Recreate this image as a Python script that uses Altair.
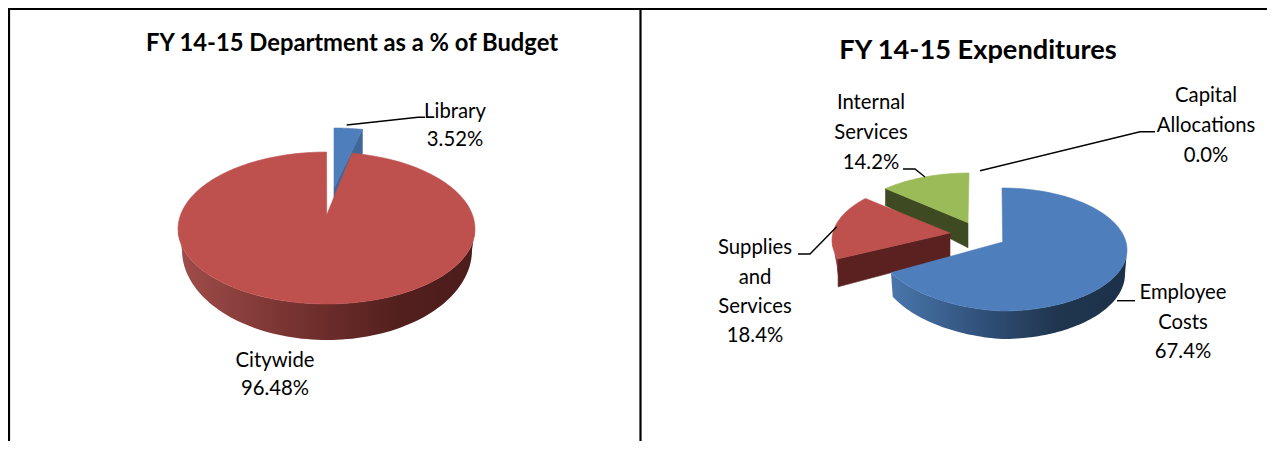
import math
import altair as alt
import pandas as pd

# ---- values
dept_names = ["Library", "Citywide"]
dept_pct = [3.52, 96.48]
exp_names = ["Employee Costs", "Supplies and Services", "Internal Services", "Capital Allocations"]
exp_pct = [67.4, 18.4, 14.2, 0.0]
title_left = "FY 14-15 Department as a % of Budget"
title_right = "FY 14-15 Expenditures"

# ---- colours
RED, BLUE, GREEN = "#BE504E", "#4E7EBB", "#9BBB59"
DARK_RED, DARK_BLUE, DARK_GREEN = "#5A2120", "#3F6797", "#3E4A22"


def grad(*stops):
    return alt.LinearGradient(
        gradient="linear", x1=0, x2=1, y1=0, y2=0,
        stops=[alt.GradientStop(color=c, offset=o) for o, c in stops],
    )


X = alt.Scale(domain=[8, 1267], nice=False, zero=False)
Y = alt.Scale(domain=[8, 441], nice=False, zero=False, reverse=True)


def enc():
    return dict(
        x=alt.X("x:Q", scale=X, axis=None),
        y=alt.Y("y:Q", scale=Y, axis=None),
        order="o:Q",
    )


def rim(e, t):
    r = math.radians(t)
    c, s = math.cos(r), math.sin(r)
    ry = e["top"] if c > 0 else e["bot"]
    lift = e.get("lift", 0) * s if s < 0 else 0
    return (e["cx"] + e["rx"] * s, e["cy"] - ry * c + lift)


def arc(e, t0, t1, n=90):
    return [rim(e, t0 + (t1 - t0) * i / n) for i in range(n + 1)]


def poly(points, fill, width=0.6):
    pts = list(points) + [points[0]]
    df = pd.DataFrame({"x": [p[0] for p in pts], "y": [p[1] for p in pts], "o": range(len(pts))})
    stroke = fill if isinstance(fill, str) else "#00000000"
    return alt.Chart(df).mark_line(fill=fill, stroke=stroke, strokeWidth=width if isinstance(fill, str) else 0).encode(**enc())


def sector(e, apex, t0, t1):
    return poly([apex] + arc(e, t0, t1), e["fill"])


def band(e, bottom, t0, t1, fill):
    return poly(arc(e, t0, t1) + arc(bottom, t1, t0), fill)


def cut(apex, edge, d_apex, d_edge, fill):
    return poly([apex, edge, (edge[0], edge[1] + d_edge), (apex[0], apex[1] + d_apex)], fill)


def lead(points, width=1.4):
    df = pd.DataFrame({"x": [p[0] for p in points], "y": [p[1] for p in points], "o": range(len(points))})
    return alt.Chart(df).mark_line(color="black", strokeWidth=width).encode(**enc())


def text(lines, x, ys, size=20.3, bold=False):
    df = pd.DataFrame({"x": [x] * len(lines), "y": [v + 1.3 for v in ys], "t": lines})
    return alt.Chart(df).mark_text(
        font="Lato", fontSize=size, fontWeight="bold" if bold else "normal",
        color="black", align="center", baseline="middle",
    ).encode(x=alt.X("x:Q", scale=X, axis=None), y=alt.Y("y:Q", scale=Y, axis=None), text="t:N")


layers = []

# ---- frame
layers += [
    lead([(8, 9), (1267, 9)], 2.2),
    lead([(9, 9), (9, 441)], 2.2),
    lead([(640.5, 9), (640.5, 441)], 2.2),
]

# ---- left pie
lib = dict(cx=334, cy=204, rx=148.5, top=76, bot=76, fill=BLUE)
lib_span = 360 * dept_pct[0] / 100 * 0.87
lib_apex = (334, 188)
layers += [
    cut(lib_apex, rim(lib, lib_span), 12, 24, DARK_BLUE),
    sector(lib, lib_apex, 0, lib_span),
]
city = dict(cx=326.5, cy=229, rx=148.5, top=77, bot=75, fill=RED)
city_bottom = dict(cx=327, cy=250, rx=145, top=90, bot=90)
city_gap = 360 * dept_pct[0] / 100 * 0.78
layers += [
    band(city, city_bottom, 90, 270, grad((0, "#A04D4A"), (0.45, "#702F2D"), (0.75, "#521F1D"), (1, "#4C1D1B"))),
    sector(city, (326.7, 215), city_gap, 360),
]

# ---- right pie
green = dict(cx=969, cy=234, rx=125, top=61, bot=61, fill=GREEN)
green_span = 360 * exp_pct[2] / 100 * 0.82
green_apex = (968, 222.7)
layers += [
    cut(green_apex, rim(green, 360 - green_span), 25, 17, DARK_GREEN),
    sector(green, green_apex, 360 - green_span, 360),
]
red = dict(cx=957, cy=240, rx=125, top=61, bot=61, fill=RED)
red_span = 360 * exp_pct[1] / 100 * 0.92
red_apex = (950, 233)
red_bottom = dict(cx=959, cy=267, rx=122, top=61, bot=61)
layers += [
    band(red, red_bottom, 252, 270, grad((0, "#A9504D"), (1, "#7A2F2D"))),
    cut(red_apex, rim(red, 252), 24, 28, DARK_RED),
    sector(red, red_apex, 252, 252 + red_span),
]
blue = dict(cx=1002, cy=250, rx=125, top=62, bot=61, lift=6, fill=BLUE)
blue_bottom = dict(cx=1002, cy=274, rx=123, top=65, bot=65, lift=8)
blue_span = 360 * exp_pct[0] / 100
layers += [
    band(blue, blue_bottom, 90, blue_span, grad((0, "#4A76AC"), (0.4, "#2F4F78"), (0.7, "#20364F"), (1, "#1C304A"))),
    sector(blue, (1002.7, 242), 0, blue_span),
]

# ---- leader lines
layers += [
    lead([(346.7, 125), (418, 117.3), (425, 117.3)]),
    lead([(903, 169), (915, 169), (925, 177)]),
    lead([(980, 170.7), (1140, 131.7), (1155, 131.7)]),
    lead([(798, 254), (810, 254), (836.7, 226.7)]),
    lead([(1117, 300.7), (1135, 300.7)]),
]

# ---- labels
layers += [
    text([title_left], 352, [43], 23.75, True),
    text([title_right], 978, [50], 27.2, True),
    text([dept_names[0], f"{dept_pct[0]:.2f}%"], 455, [111, 139]),
    text([dept_names[1], f"{dept_pct[1]:.2f}%"], 275, [360, 388]),
    text(["Internal", "Services", f"{exp_pct[2]:.1f}%"], 871, [102, 132, 162]),
    text(["Capital", "Allocations", f"{exp_pct[3]:.1f}%"], 1206, [95, 125, 155]),
    text(["Supplies", "and", "Services", f"{exp_pct[1]:.1f}%"], 755, [247, 277, 306, 335]),
    text(["Employee", "Costs", f"{exp_pct[0]:.1f}%"], 1183, [292, 322, 351]),
]

chart = alt.layer(*layers).properties(
    width=1259, height=433, padding=0, background="white",
    autosize=alt.AutoSizeParams(type="none"),
).configure_view(stroke=None)

chart.save("out.html", embed_options={"renderer": "svg", "actions": False})
